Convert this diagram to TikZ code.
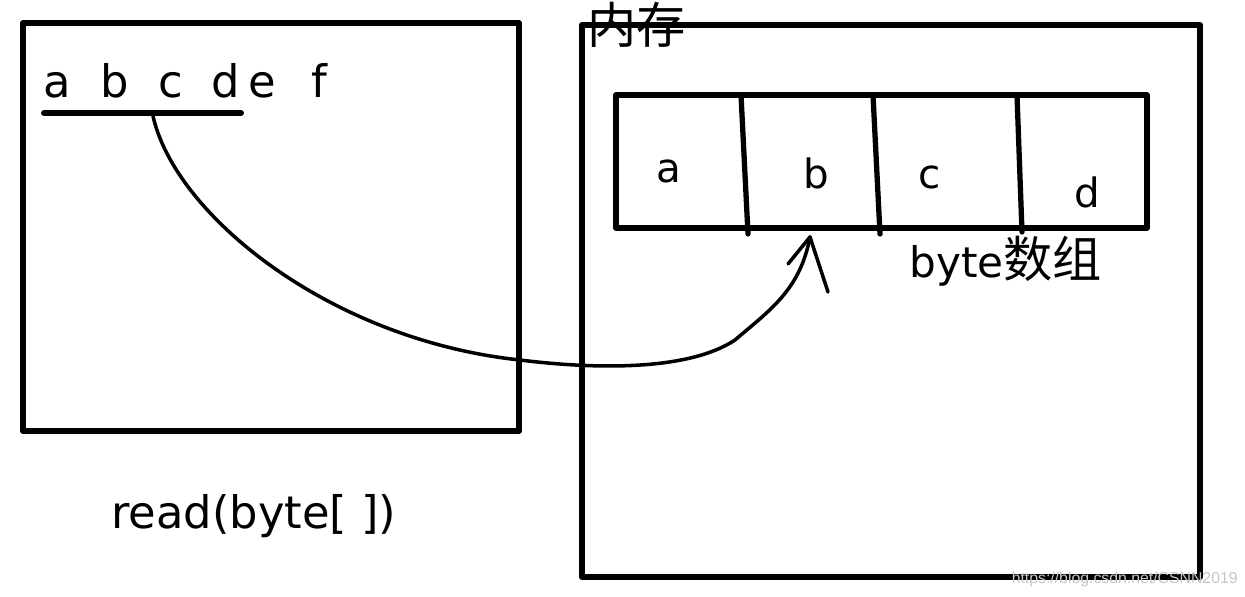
\documentclass[tikz,border=0pt]{standalone}
\usepackage{fontspec}
\setmainfont{DejaVu Sans}
\newfontfamily\cjk{Noto Sans CJK SC}
\newfontfamily\markfont{Liberation Sans}
\usetikzlibrary{positioning}

\begin{document}
\begin{tikzpicture}[x=0.02cm,y=-0.02cm,line cap=round,line join=round,
  frame/.style={draw,line width=3.4pt,line cap=rect},
  cell/.style={line width=3pt},
  txt/.style={inner sep=0pt,anchor=base west}]
\useasboundingbox (0,0) rectangle (1245,597);

% the file
\draw[frame] (23,23) rectangle (519,431);
\node[txt,font=\fontsize{25.5}{25.5}\selectfont] (letters) at (43,98)
  {a\hspace{0.59cm}b\hspace{0.59cm}c\hspace{0.57cm}d\hspace{0.17cm}e\hspace{0.71cm}f};
\draw[line width=3.4pt] (44,113) -- (241,113);
\coordinate (from) at (153,116);
\node[txt,font=\fontsize{25.5}{25.5}\selectfont] (read) at (111,529) {read(byte[ ])};

% memory
\draw[frame] (582,25) rectangle (1200,577);
\node[txt,font=\fontsize{28}{28}\selectfont\cjk] (mem) at (587,44) {内存};

% byte array
\draw[cell] (616,95) rectangle (1147,228);
\draw[cell] (741,95) -- (748,234);
\draw[cell] (873,95) -- (880,234);
\draw[cell] (1017,95) -- (1022,232);
\node[txt,font=\fontsize{23}{23}\selectfont] (ca) at (656,183) {a};
\node[txt,font=\fontsize{23}{23}\selectfont] (cb) at (803,189) {b};
\node[txt,font=\fontsize{23}{23}\selectfont] (cc) at (918,189) {c};
\node[txt,font=\fontsize{23}{23}\selectfont] (cd) at (1074,208) {d};
\node[txt,font=\fontsize{24}{24}\selectfont] (arrname) at (909,278) {byte{\fontsize{28}{28}\selectfont\cjk 数组}};
\coordinate (tip) at (810,237);

% read into the array
\draw[line width=2pt] (from) .. controls (175,215) and (330,340) .. (520,360)
  .. controls (600,370) and (690,370) .. (735,340)
  .. controls (770,310) and (800,290) .. (tip);
\draw[line width=2pt] (tip) -- ++(-22,27);
\draw[line width=2pt] (tip) -- ++(18,55);

\node[inner sep=0pt,anchor=base east,font=\fontsize{9}{9}\selectfont\markfont,text=gray!45] (mark) at (1238,584) {https://blog.csdn.net/CSNN2019};
\end{tikzpicture}
\end{document}
